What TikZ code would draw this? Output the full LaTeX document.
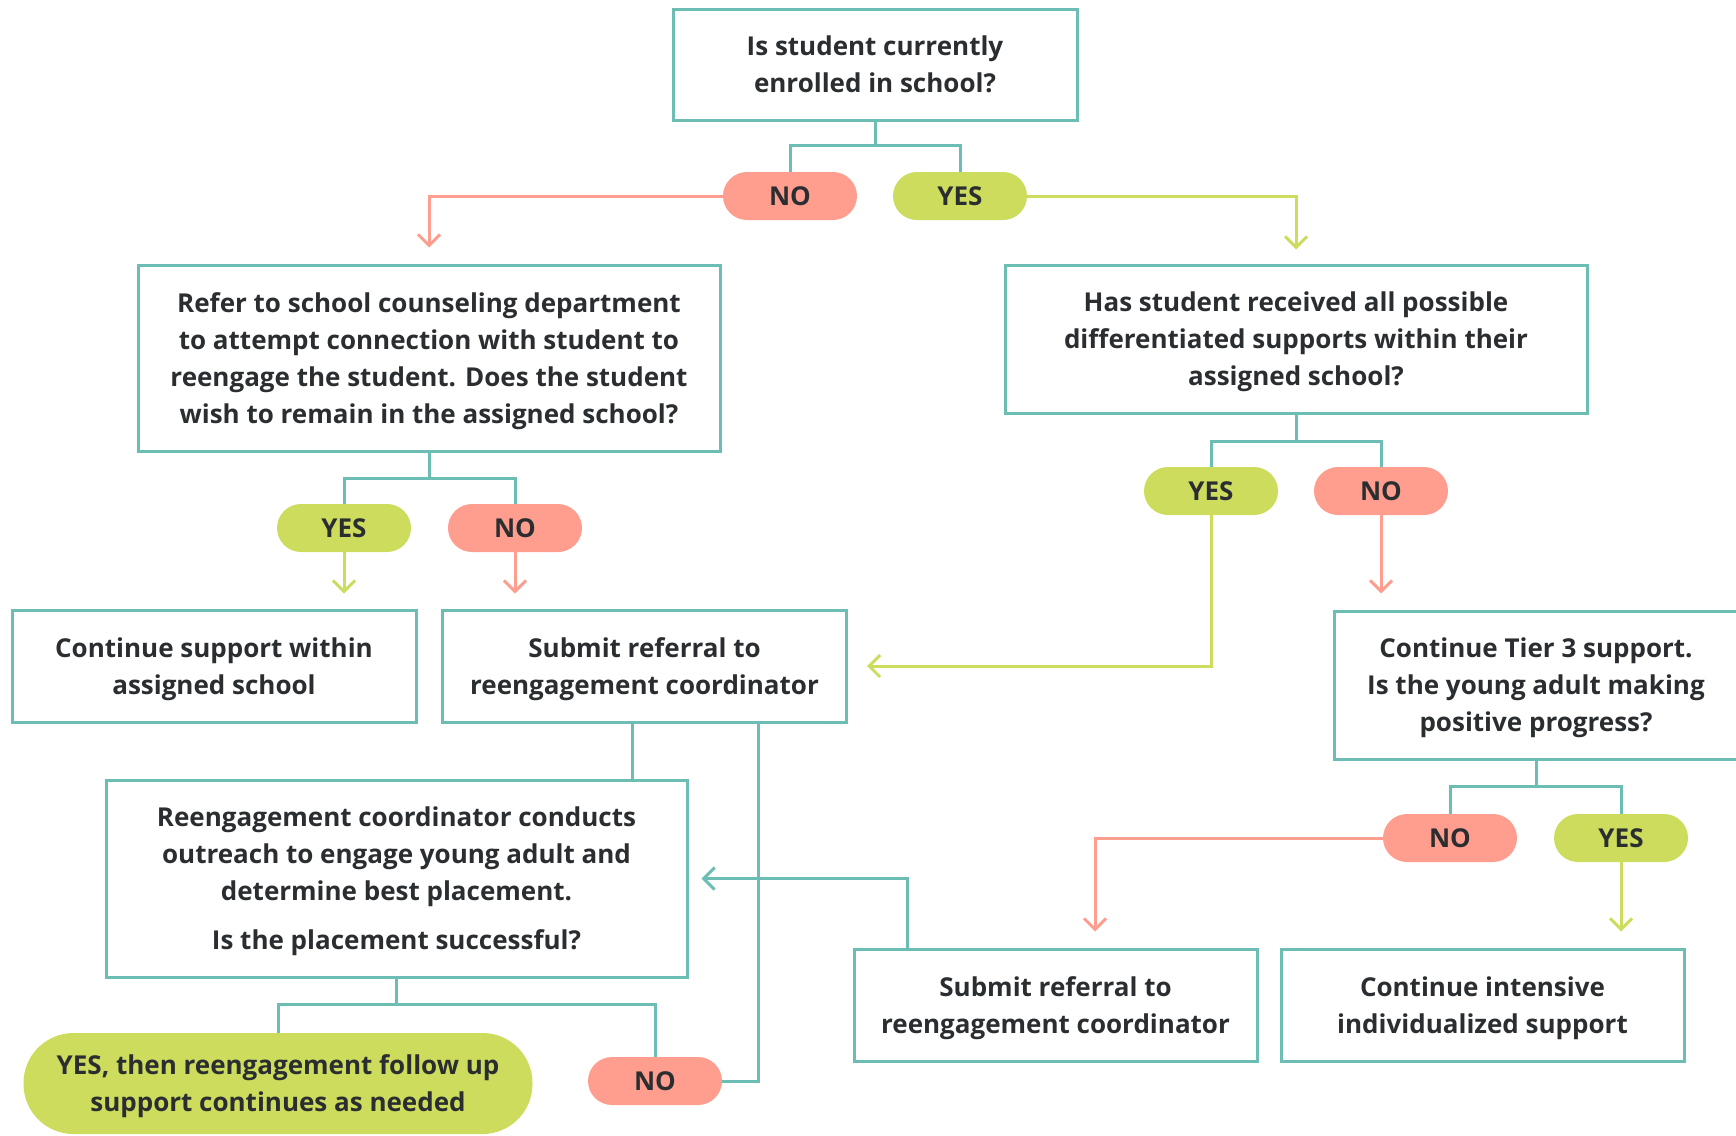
\documentclass[tikz,border=0pt]{standalone}
\usepackage{fontspec}
\setmainfont{Open Sans}
\usetikzlibrary{arrows.meta}
\definecolor{boxline}{RGB}{108,190,180}
\definecolor{nofill}{RGB}{255,158,142}
\definecolor{yesfill}{RGB}{205,220,92}
\definecolor{textcol}{RGB}{43,46,49}

\begin{document}
\begin{tikzpicture}[x=1pt, y=-1pt, textcol,
	font=\bfseries\fontsize{26}{37}\selectfont,
	box/.style={draw=boxline, line width=3pt, rectangle, align=center, inner sep=0pt, text depth=0pt},
	pill/.style={rectangle, rounded corners=24pt, minimum width=134pt, minimum height=48pt, inner sep=0pt, align=center},
	nopill/.style={pill, fill=nofill},
	yespill/.style={pill, fill=yesfill},
	link/.style={boxline, line width=3pt},
	linkarrow/.style={link, -{Straight Barb[length=11pt,width=22pt]}},
	noarrow/.style={nofill, line width=3pt, -{Straight Barb[length=11pt,width=22pt]}},
	yesarrow/.style={yesfill, line width=3pt, -{Straight Barb[length=11pt,width=22pt]}}]

	\useasboundingbox (0,0) rectangle (1736,1135);

	% Stage 1
	\node[box, minimum width=404pt, minimum height=111pt] (enrolled) at (875,64.5) {Is student currently\\enrolled in school?};
	\node[nopill] (no1) at (790,196) {NO};
	\node[yespill] (yes1) at (960,196) {YES};
	\coordinate (split1) at (875,145);

	\draw[link] (enrolled.south) -- (split1);
	\draw[link] (no1.north) |- (split1) -| (yes1.north);

	% Stage 2
	\node[box, minimum width=582pt, minimum height=186pt] (refer) at (429,358) {Refer to school counseling department\\to attempt connection with student to\\reengage the student. Does the student\\wish to remain in the assigned school?};
	\node[box, minimum width=582pt, minimum height=148pt] (received) at (1296,339) {Has student received all possible\\differentiated supports within their\\assigned school?};

	\draw[noarrow] (no1) -| ([yshift=16pt]refer.north);
	\draw[yesarrow] (yes1) -| ([yshift=14pt]received.north);

	% Stage 3
	\node[yespill] (yes2) at (344,528) {YES};
	\node[nopill] (no2) at (515,528) {NO};
	\coordinate (split2) at (429,478);

	\draw[link] (refer.south) -- (split2);
	\draw[link] (yes2.north) |- (split2) -| (no2.north);

	\node[yespill] (yes3) at (1211,491) {YES};
	\node[nopill] (no3) at (1381,491) {NO};
	\coordinate (split3) at (1296,441);

	\draw[link] (received.south) -- (split3);
	\draw[link] (yes3.north) |- (split3) -| (no3.north);

	\node[box, minimum width=404pt, minimum height=112pt] (within) at (214,666) {Continue support within\\assigned school};
	\node[box, minimum width=404pt, minimum height=112pt] (submit1) at (644.5,666) {Submit referral to\\reengagement coordinator};
	\node[box, minimum width=404pt, minimum height=148pt] (tier3) at (1536,685) {Continue Tier 3 support.\\Is the young adult making\\positive progress?};

	\draw[yesarrow, shorten >=15pt] (yes2) -- (yes2 |- within.north);
	\draw[noarrow, shorten >=15pt] (no2) -- (no2 |- submit1.north);
	\draw[noarrow, shorten >=16pt] (no3) -- (no3 |- tier3.north);
	\draw[yesarrow] (yes3) |- ([xshift=19pt]submit1.east);

	% Stage 4
	\node[box, minimum width=581pt, minimum height=197pt] (outreach) at (396.5,878.5) {Reengagement coordinator conducts\\outreach to engage young adult and\\determine best placement.\\[12pt]Is the placement successful?};
	\coordinate (s1a) at ([xshift=-12pt]submit1.south);
	\coordinate (s1b) at ([xshift=113.5pt]submit1.south);

	\draw[link] (s1a) -- (s1a |- outreach.north);

	\node[nopill] (no4) at (1450,838) {NO};
	\node[yespill] (yes4) at (1621,838) {YES};
	\coordinate (split4) at (1536,786);

	\draw[link] (tier3.south) -- (split4);
	\draw[link] (no4.north) |- (split4) -| (yes4.north);

	\node[box, minimum width=403pt, minimum height=112pt] (submit2) at (1055.5,1005) {Submit referral to\\reengagement coordinator};
	\node[box, minimum width=403pt, minimum height=112pt] (intensive) at (1482.5,1005) {Continue intensive\\individualized support};
	\coordinate (n4) at ([xshift=39.5pt,yshift=16pt]submit2.north);
	\coordinate (s2a) at ([xshift=-148.5pt]submit2.north);

	\draw[noarrow] (no4) -| (n4);
	\draw[yesarrow, shorten >=16pt] (yes4) -- (yes4 |- intensive.north);
	\draw[linkarrow] (s2a) |- ([xshift=13pt]outreach.east);

	% Stage 5
	\node[yespill, text depth=0pt, minimum width=509pt, minimum height=101pt, rounded corners=50pt] (followup) at (278,1083.5) {YES, then reengagement follow up\\support continues as needed};
	\node[nopill] (no5) at (655,1081) {NO};
	\coordinate (split5) at (396.5,1004);

	\draw[link] (outreach.south) -- (split5);
	\draw[link] (followup.north) |- (split5) -| (no5.north);
	\draw[link] (s1b) |- (no5.east);
\end{tikzpicture}
\end{document}
